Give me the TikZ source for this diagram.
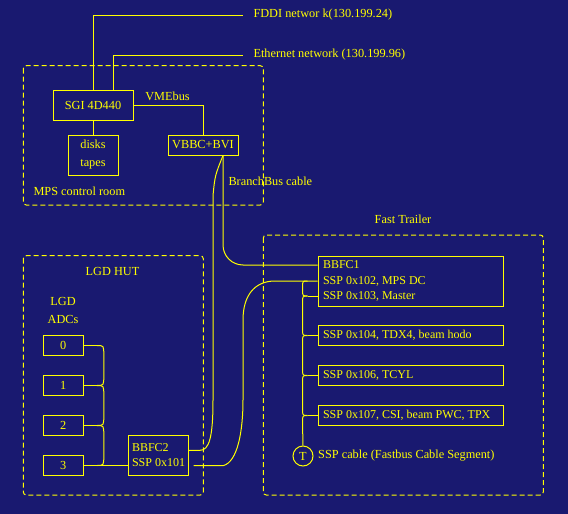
\documentclass[tikz,border=0pt]{standalone}
\usepackage{fontspec}
\setmainfont{Liberation Serif}
\usetikzlibrary{calc}
\definecolor{bg}{RGB}{25,25,112}
\definecolor{fg}{RGB}{255,255,0}
\newcommand\myrow[1]{\makebox[175pt][l]{#1}}
\begin{document}
\begin{tikzpicture}[x=1pt,y=-1pt,line width=1pt,
  every node/.style={text=fg,font=\fontsize{12.3}{15.5}\selectfont},
  box/.style={draw=fg,inner sep=0pt,minimum height=20pt},
  wide/.style={box,minimum width=185pt,align=left,inner xsep=5pt,font=\fontsize{12}{15.5}\selectfont},
  adc/.style={box,minimum width=40pt},
  room/.style={draw=fg,dash pattern=on 5pt off 3pt,rounded corners=3pt},
  lbl/.style={inner sep=0pt},
  wire/.style={draw=fg}]
\fill[bg] (0,0) rectangle (568,514);
\useasboundingbox (0,0) rectangle (568,514);

% rooms
\draw[room] (23.3,65.7) rectangle (263.3,205);
\draw[room] (23.3,255.7) rectangle (203.3,495);
\draw[room] (263.3,235) rectangle (543.3,495);
\node[lbl,anchor=west] (mpslbl) at (33,191) {MPS control room};
\node[lbl] (lgdhut) at (112.5,271) {LGD HUT};
\node[lbl] (lgd) at (63,301) {LGD};
\node[lbl] (adcs) at (63,319) {ADCs};
\node[lbl] (fast) at (403,219) {Fast Trailer};

% MPS control room
\node[box,minimum width=80pt,minimum height=30pt] (SGI) at (93,105) {SGI 4D440};
\node[box,minimum width=50pt,minimum height=40pt,align=center,font=\fontsize{12.3}{18}\selectfont] (disks) at (93,155) {disks\\tapes};
\node[box,minimum width=70pt] (VBBC) at (203,145) {VBBC+BVI};
\node[lbl] (vme) at (167.5,96) {VMEbus};
\node[lbl,anchor=west] (fddi) at (253,15) {FDDI networ k(130.199.24)};
\node[lbl,anchor=west] (eth) at (253,55) {Ethernet network (130.199.96)};
\node[lbl,anchor=west] (bblbl) at (228,181) {BranchBus cable};

\draw[wire] (SGI.north) |- ([xshift=-10pt]fddi.west);
\draw[wire] ([xshift=20pt]SGI.north) |- ([xshift=-10pt]eth.west);
\draw[wire] (SGI.south) -- (disks.north);
\coordinate (vmeend) at (203,110);
\draw[wire] (SGI.east) -| (vmeend);
\draw[wire] (VBBC.north) -- (VBBC.north |- SGI.east);

% LGD HUT
\node[adc] (A0) at (63.3,345.5) {0};
\node[adc] (A1) at (63.3,385.5) {1};
\node[adc] (A2) at (63.3,425.5) {2};
\node[adc] (A3) at (63.3,465.5) {3};
\node[box,minimum width=60pt,minimum height=40pt,align=left,inner xsep=4pt,font=\fontsize{12}{15}\selectfont] (BBFC2) at (158,455.3) {\makebox[52pt][l]{BBFC2}\\\makebox[52pt][l]{SSP 0x101}};

\foreach \i in {0,1,2,3} \coordinate (a\i) at ($(A\i.east)+(13,0)$);
\foreach \i in {0,1,2} \draw[wire] (A\i.east) -- (a\i);
\draw[wire] (A3.east) -- (BBFC2.west |- A3.east);
\foreach \a/\b in {a0/a1,a1/a2,a2/a3}
  \draw[wire] (\a) .. controls ($(\a)+(7,0)$) .. ($(\a)+(7,10)$) -- ($(\b)+(7,-10)$) .. controls ($(\b)+(7,0)$) .. (\b);

% Fast Trailer
\node[wide,minimum height=50pt] (BBFC1) at (410.5,281) {\myrow{BBFC1}\\\myrow{SSP 0x102, MPS DC}\\\myrow{SSP 0x103, Master}};
\node[wide] (S104) at (410.5,335.5) {\myrow{SSP 0x104, TDX4, beam hodo}};
\node[wide] (S106) at (410.5,375.5) {\myrow{SSP 0x106, TCYL}};
\node[wide] (S107) at (410.5,415.5) {\myrow{SSP 0x107, CSI, beam PWC, TPX}};
\node[draw=fg,circle,minimum size=20pt,inner sep=0pt] (T) at (303,456) {T};
\node[lbl,anchor=west] (ssplbl) at (317.7,456) {SSP cable (Fastbus Cable Segment)};

\coordinate (b1top) at ($(BBFC1.west)+(0,-16)$);
\coordinate (b1mid) at ($(BBFC1.west)+(0,0)$);
\coordinate (b1bot) at ($(BBFC1.west)+(0,15)$);
\coordinate (j1) at ($(b1mid)+(-10,0)$);
\coordinate (j2) at ($(b1bot)+(-10,0)$);
\coordinate (j3) at ($(S104.west)+(-10,0)$);
\coordinate (j4) at ($(S106.west)+(-10,0)$);
\coordinate (j5) at ($(S107.west)+(-10,0)$);
\draw[wire] (j2) -- (b1bot);
\draw[wire] (j3) -- (S104.west);
\draw[wire] (j4) -- (S106.west);
\draw[wire] (j5) -- (S107.west);
\foreach \a/\b in {j1/j2,j2/j3,j3/j4,j4/j5}
  \draw[wire] (\a) .. controls ($(\a)+(-5,0)$) .. ($(\a)+(-5,7)$) -- ($(\b)+(-5,-7)$) .. controls ($(\b)+(-5,0)$) .. (\b);
\draw[wire] (j5) .. controls ($(j5)+(-5,0)$) .. ($(j5)+(-5,7)$) -- (T.north);

% BranchBus cables
\coordinate (bb) at ([xshift=20pt]VBBC.south);
\coordinate (b2top) at ($(BBFC2.east)+(0,-5)$);
\coordinate (b2bot) at ($(BBFC2.east)+(5,10.4)$);
\draw[wire,rounded corners=20pt] (bb) -- (bb |- b1top) -- (b1top);
\draw[wire] (bb) .. controls ($(bb)+(-8,20)$) .. ($(bb)+(-10,40)$) -- (213,400) .. controls (213,438) and (209,450.3) .. (200,450.3) -- (b2top);
\draw[wire] (b2bot) -- (223,465.7) .. controls (238,462) and (243,430) .. (243,400) -- (243,320) .. controls (243,295) and (255,281) .. (275,281) -- (b1mid);
\end{tikzpicture}
\end{document}
